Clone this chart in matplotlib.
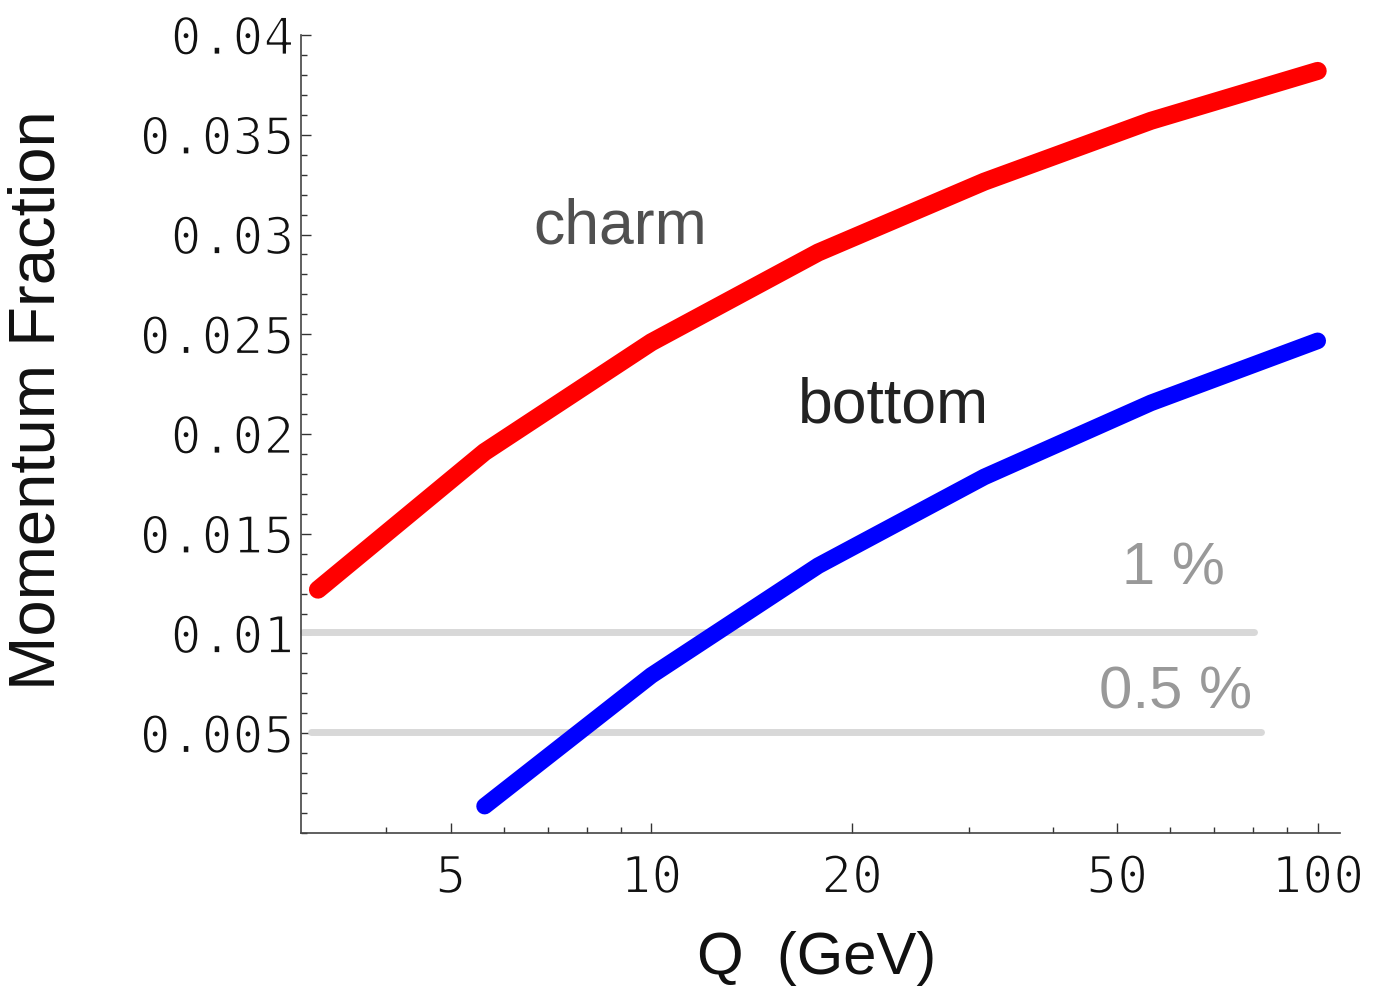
import matplotlib.pyplot as plt
import matplotlib.patheffects as pe
from matplotlib.ticker import FixedLocator, FixedFormatter, MultipleLocator, NullFormatter

# scale Q (GeV), quarter-decade steps
q_charm = [3.16, 5.62, 10.0, 17.8, 31.6, 56.2, 100.0]
frac_charm = [0.0122, 0.0191, 0.0246, 0.0291, 0.03265, 0.0357, 0.0382]

q_bottom = [5.62, 10.0, 17.8, 31.6, 56.2, 100.0]
frac_bottom = [0.00135, 0.0079, 0.0134, 0.01785, 0.02156, 0.02467]

# reference levels
level_vals = [0.01, 0.005]
level_spans = [(3.0, 80.2), (3.08, 82.1)]
level_labels = ["1 %", "0.5 %"]

x_ticks = [5, 10, 20, 50, 100]
y_ticks = [0.005, 0.01, 0.015, 0.02, 0.025, 0.03, 0.035, 0.04]
y_ticklabels = ["0.005", "0.01", "0.015", "0.02", "0.025", "0.03", "0.035", "0.04"]

fig = plt.figure(figsize=(13.77, 9.89), dpi=100)
ax = fig.add_axes([0.2186, 0.1577, 0.7545, 0.8069])

for val, (x0, x1) in zip(level_vals, level_spans):
    ax.plot([x0, x1], [val + 0.00008, val + 0.00008], color="#d8d8d8", lw=5,
            solid_capstyle="round", clip_on=False)

ax.plot(q_charm, frac_charm, color="#ff0000", lw=13, solid_capstyle="round",
        solid_joinstyle="round", clip_on=False)
ax.plot(q_bottom, frac_bottom, color="#0000ff", lw=12, solid_capstyle="round",
        solid_joinstyle="round", clip_on=False)

ax.set_xscale("log")
ax.set_xlim(2.98, 108)
ax.set_ylim(0, 0.04)

ax.xaxis.set_major_locator(FixedLocator(x_ticks))
ax.xaxis.set_major_formatter(FixedFormatter([str(t) for t in x_ticks]))
ax.xaxis.set_minor_locator(FixedLocator([4, 6, 7, 8, 9, 30, 40, 60, 70, 80, 90]))
ax.xaxis.set_minor_formatter(NullFormatter())
ax.yaxis.set_major_locator(FixedLocator(y_ticks))
ax.yaxis.set_major_formatter(FixedFormatter(y_ticklabels))
ax.yaxis.set_minor_locator(MultipleLocator(0.001))

for s in ["top", "right"]:
    ax.spines[s].set_visible(False)
for s in ["left", "bottom"]:
    ax.spines[s].set_color("#444444")
    ax.spines[s].set_linewidth(1.2)

ax.tick_params(which="both", direction="in", color="#333333", width=1)
ax.tick_params(which="major", length=7)
ax.tick_params(which="minor", length=4)
ax.tick_params(axis="x", which="major", pad=15)
ax.tick_params(axis="y", which="major", pad=5)

# thin the mono digits by eroding their outline with a white stroke
thin = [pe.Normal(), pe.Stroke(linewidth=1.3, foreground="white")]
for lab in ax.get_xticklabels() + ax.get_yticklabels():
    lab.set_fontfamily("DejaVu Sans Mono")
    lab.set_fontsize(37)
    lab.set_color("#111111")
    lab.set_path_effects(thin)

ax.set_ylabel("Momentum Fraction", fontsize=47, family="Liberation Sans", color="#111111")
ax.yaxis.set_label_coords(-0.254, 0.543)
ax.set_xlabel("Q  (GeV)", fontsize=43, family="Liberation Sans", color="#111111")
ax.xaxis.set_label_coords(0.496, -0.157)
ax.xaxis.label.set_va("center")
ax.yaxis.label.set_va("center")

ax.text(8.98, 0.0304, "charm", fontsize=45, family="Liberation Sans",
        color="#505050", ha="center", va="center")
ax.text(23.1, 0.0214, "bottom", fontsize=45, family="Liberation Sans",
        color="#222222", ha="center", va="center")
ax.text(60.8, 0.01325, level_labels[0], fontsize=43, family="Liberation Sans",
        color="#999999", ha="center", va="center")
ax.text(61.2, 0.007, level_labels[1], fontsize=43, family="Liberation Sans",
        color="#999999", ha="center", va="center")

fig.savefig("out.png", dpi=100)
